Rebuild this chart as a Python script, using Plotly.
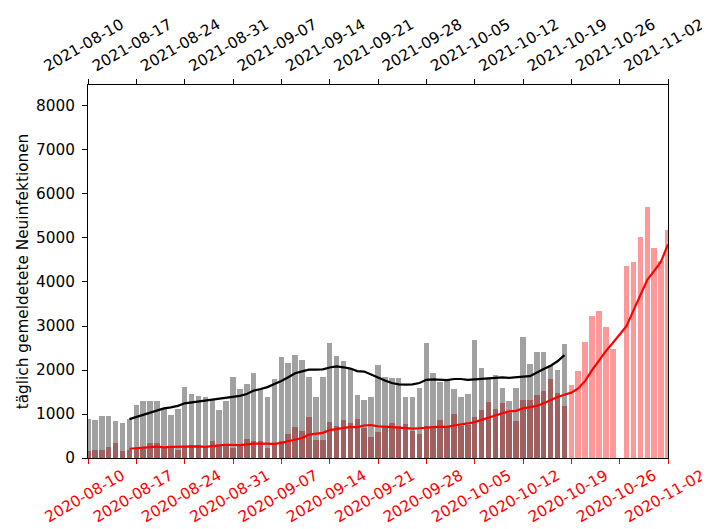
import pandas as pd
import plotly.graph_objects as go

# ---- data ----
# 2021: daily reported new infections, 2021-08-10 .. 2021-10-18
start21 = "2021-08-10"
cases21 = [880, 865, 960, 955, 835, 795, 890, 1215, 1295, 1295,
           1290, 1105, 975, 1120, 1620, 1455, 1400, 1390, 1310, 1090,
           1290, 1850, 1560, 1690, 1930, 1575, 1385, 1795, 2300, 2160,
           2335, 2235, 1835, 1390, 1840, 2605, 2320, 2205, 2030, 1430,
           1325, 1380, 2105, 1850, 1810, 1810, 1380, 1380, 1590, 2615,
           1925, 1735, 1765, 1560, 1380, 1455, 2680, 2045, 1795, 1880,
           1580, 1305, 1590, 2740, 2130, 2410, 2400, 2105, 2010, 2580]

# 2020: daily reported new infections, 2020-08-10 .. 2020-11-02 (2020-10-26 missing)
start20 = "2020-08-10"
missing20 = ["2020-10-26"]
cases20 = [167, 185, 190, 250, 345, 165, 172, 215, 250, 340,
           330, 225, 240, 190, 265, 300, 295, 265, 394, 290,
           300, 220, 270, 432, 380, 386, 220, 333, 380, 553,
           697, 614, 932, 409, 409, 818, 727, 864, 795, 886,
           674, 485, 591, 697, 795, 727, 773, 606, 545, 727,
           727, 864, 700, 1008, 727, 742, 939, 1080, 1275, 1114,
           1250, 1015, 833, 1320, 1320, 1432, 1530, 1788, 1488, 1190,
           1652, 1977, 2644, 3227, 3349, 2970, 2477, 4371, 4450, 5030,
           5710, 4770, 4470, 5180]

ytick_vals = [0, 1000, 2000, 3000, 4000, 5000, 6000, 7000, 8000]
ylabel = "täglich gemeldetete Neuinfektionen"

# ---- derived ----
dates21 = pd.date_range(start21, periods=len(cases21), freq="D")
all20 = pd.date_range(start20, "2020-11-02", freq="D")
dates20 = all20[~all20.isin(pd.to_datetime(missing20))]
avg21 = pd.Series(cases21).rolling(7).mean()
avg20 = pd.Series(cases20).rolling(7).mean()

ticks20 = pd.date_range("2020-08-10", "2020-11-02", freq="7D")
ticks21 = pd.date_range("2021-08-10", "2021-11-02", freq="7D")
range20 = ["2020-08-10", "2020-11-02"]
range21 = ["2021-08-10", "2021-11-02"]

DAY = 86400000
FONT = "DejaVu Sans"
FS = 15.3

fig = go.Figure()
fig.add_trace(go.Bar(x=dates20, y=cases20, xaxis="x", yaxis="y",
                     width=0.8 * DAY, marker=dict(color="rgba(255,0,0,0.4)", line=dict(width=0)),
                     showlegend=False))
fig.add_trace(go.Bar(x=dates21, y=cases21, xaxis="x2", yaxis="y",
                     width=0.8 * DAY, marker=dict(color="rgba(0,0,0,0.37)", line=dict(width=0)),
                     showlegend=False))
fig.add_trace(go.Scatter(x=dates21, y=avg21, xaxis="x2", yaxis="y", mode="lines",
                         line=dict(color="black", width=2.2), showlegend=False))
# red line on a hidden copy of the 2020 axis so it is drawn above the grey bars
fig.add_trace(go.Scatter(x=dates20, y=avg20, xaxis="x3", yaxis="y", mode="lines",
                         line=dict(color="red", width=2.2), showlegend=False))

# page body has an 8px default margin, so the figure is sized to fit the 710x529 window
fig.update_layout(
    width=702, height=521,
    margin=dict(l=80, r=42, t=77, b=71),
    paper_bgcolor="white", plot_bgcolor="white",
    barmode="overlay", bargap=0,
    font=dict(family=FONT, size=FS, color="black"),
    xaxis=dict(type="date", range=range20,
               tickvals=ticks20, tickformat="%Y-%m-%d", tickangle=-30,
               tickfont=dict(color="red", family=FONT, size=FS),
               ticks="outside", ticklen=5, tickwidth=1, tickcolor="red",
               showline=True, linecolor="black", linewidth=1,
               showgrid=False, zeroline=False, automargin=False,
               ticklabelshift=34, ticklabelstandoff=-3),
    xaxis2=dict(type="date", range=range21,
                overlaying="x", side="top", anchor="y",
                tickvals=ticks21, tickformat="%Y-%m-%d", tickangle=-30,
                tickfont=dict(color="black", family=FONT, size=FS),
                ticks="outside", ticklen=5, tickwidth=1, tickcolor="black",
                showline=True, linecolor="black", linewidth=1,
                showgrid=False, zeroline=False, automargin=False,
                ticklabelshift=-44),
    xaxis3=dict(type="date", range=range20, overlaying="x", anchor="y",
                visible=False, showgrid=False, zeroline=False, automargin=False),
    yaxis=dict(range=[0, 8477], tickvals=ytick_vals,
               ticks="outside", ticklen=5, tickwidth=1, tickcolor="black",
               showline=True, linecolor="black", linewidth=1, mirror=True,
               showgrid=False, zeroline=False, automargin=False,
               ticklabelstandoff=4,
               title=dict(text=ylabel, standoff=3, font=dict(family=FONT, size=FS))),
)

fig.write_html("out.html")
